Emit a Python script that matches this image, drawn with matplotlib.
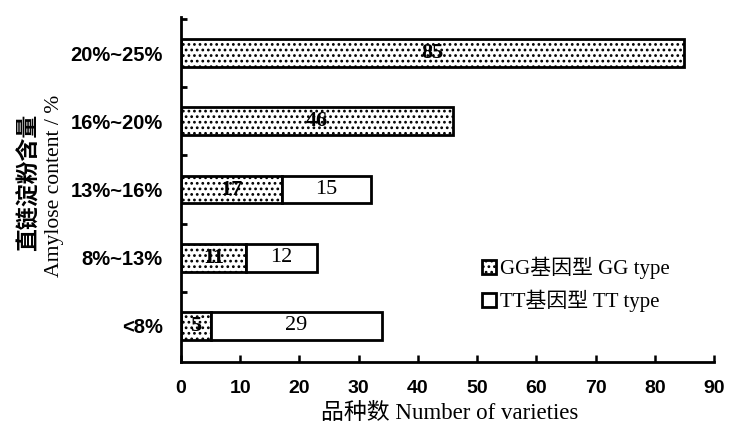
import matplotlib
matplotlib.use("Agg")
import matplotlib.pyplot as plt
from matplotlib.patches import Patch
import numpy as np

plt.rcParams['hatch.linewidth'] = 1.2

categories = ["<8%", "8%~13%", "13%~16%", "16%~20%", "20%~25%"]
gg_values = [5, 11, 17, 46, 85]
tt_values = [29, 12, 15, 0, 0]
gg_label = "GG基因型 GG type"
tt_label = "TT基因型 TT type"
xlabel = "品种数 Number of varieties"
ylabel_cn = "直链淀粉含量"
ylabel_en = "Amylose content / %"
xticks = [0, 10, 20, 30, 40, 50, 60, 70, 80, 90]

W, H = 731, 440
fig = plt.figure(figsize=(W / 100, H / 100), dpi=100)
ax = fig.add_axes([181 / W, 1 - 362 / H, (714 - 181) / W, (362 - 17) / H])

serif = ['Liberation Serif', 'Noto Sans CJK SC']
sansb = dict(family='Liberation Sans', weight='bold')

y = np.arange(len(categories))
h = 0.41
ax.barh(y, gg_values, height=h, color='white', edgecolor='black', linewidth=2.0, hatch='...')
tt_mask = [v > 0 for v in tt_values]
ax.barh(y[tt_mask], np.array(tt_values)[tt_mask], left=np.array(gg_values)[tt_mask], height=h,
        color='white', edgecolor='black', linewidth=2.0)

for yi, g, t in zip(y, gg_values, tt_values):
    ax.text(g / 2, yi, str(g), ha='center', va='center', family=serif, fontsize=16, fontweight='bold')
    if t > 0:
        ax.text(g + t / 2, yi, str(t), ha='center', va='center', family=serif, fontsize=16)

ax.set_xlim(0, 90)
ax.set_ylim(-0.53, 4.53)
for s in ['top', 'right']:
    ax.spines[s].set_visible(False)
for s in ['left', 'bottom']:
    ax.spines[s].set_linewidth(2.0)

ax.set_xticks(xticks)
ax.set_xticklabels([str(v) for v in xticks], **sansb, fontsize=14)
ax.tick_params(axis='x', direction='in', length=5, width=1.8, pad=13)

ax.set_yticks(y)
ax.set_yticklabels(categories, **sansb, fontsize=14.5)
ax.tick_params(axis='y', which='major', length=0, pad=13)
ax.set_yticks(np.arange(-0.5, 5.0, 1.0)[1:], minor=True)
ax.tick_params(axis='y', which='minor', direction='in', length=4, width=2)

fig.text(450 / W, 1 - 413 / H, xlabel, ha='center', va='center', family=serif, fontsize=16.5)
fig.text(29 / W, 1 - 182 / H, ylabel_cn, ha='center', va='center', rotation=90,
         family=['Noto Sans CJK SC'], fontweight='bold', fontsize=16.5)
fig.text(55 / W, 1 - 186 / H, ylabel_en, ha='center', va='center', rotation=90,
         family=serif, fontsize=15.6)

handles = [Patch(facecolor='white', edgecolor='black', hatch='...', linewidth=2, label=gg_label),
           Patch(facecolor='white', edgecolor='black', linewidth=2, label=tt_label)]
leg = fig.legend(handles=handles, loc='upper left', bbox_to_anchor=(482 / W, 1 - 257 / H),
                 frameon=False, prop={'family': serif, 'size': 15},
                 handlelength=0.65, handleheight=0.65, handletextpad=0.2, labelspacing=0.5,
                 borderaxespad=0, borderpad=0)

fig.savefig("out.png", dpi=100)
